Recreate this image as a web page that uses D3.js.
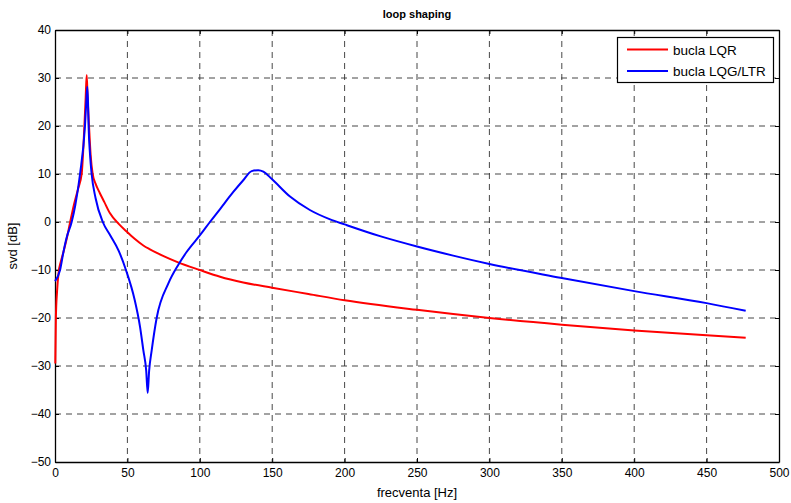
<!DOCTYPE html>
<html>
<head>
<meta charset="utf-8">
<script src="https://cdn.jsdelivr.net/npm/d3@7"></script>
<style>
  html, body { margin: 0; padding: 0; background: #fff; }
  svg { display: block; font-family: "Liberation Sans", Arial, sans-serif; }
</style>
</head>
<body>
<svg id="chart" width="791" height="503"></svg>
<script>
// Frequency response samples: [frequency Hz, singular value dB]
const lqrFreq = [0.2, 0.6, 1.4, 2.5, 4, 5.8, 8, 10.5, 13, 16, 18.4, 20.3, 21.2, 21.9, 22.5, 23.5, 24.6, 26, 28, 31, 34, 38, 44, 49.5, 55, 61, 65.6, 75, 85, 100, 114, 130, 150, 175, 200, 250, 300, 350, 400, 450, 477];
const lqrDb   = [-29.5, -20, -14.5, -10.5, -8.3, -6.3, -3.6, 0, 3.5, 7, 10, 20, 26, 30.6, 26, 20, 14, 10, 8, 6, 4.2, 1.8, -0.4, -2.0, -3.5, -4.9, -5.7, -7.1, -8.4, -10, -11.4, -12.6, -13.7, -15, -16.3, -18.3, -20, -21.4, -22.6, -23.6, -24.1];

const ltrFreq = [0, 3.5, 5.8, 8, 11.5, 14, 17.3, 20.7, 21.6, 22.3, 22.8, 23.2, 24.2, 25.3, 28, 33, 38, 44, 49, 55, 58.7, 61, 63, 64, 65, 66.8, 70.2, 78.3, 85.2, 91, 100, 107, 114, 123, 130, 135.8, 140.4, 143.9, 149.6, 162.3, 176, 190, 200, 225, 250, 275, 300, 349, 400, 450, 477];
const ltrDb   = [-12.3, -10, -6.3, -3.3, 0, 3.5, 10, 20, 25, 28.2, 25, 20, 14, 10, 5, 0, -2.7, -6, -10, -16.2, -21.8, -26.7, -31, -35.6, -31, -26.7, -20, -12.8, -8.9, -6.2, -2.8, 0, 2.7, 6.2, 8.7, 10.6, 10.8, 10.5, 9, 5.3, 2.5, 0.55, -0.5, -3, -5.1, -7, -8.75, -11.6, -14.4, -16.9, -18.5];

const xTicks = [0, 50, 100, 150, 200, 250, 300, 350, 400, 450, 500];
const yTicks = [-50, -40, -30, -20, -10, 0, 10, 20, 30, 40];

const seriesNames = ["bucla LQR", "bucla LQG/LTR"];
const seriesColors = ["#ff0000", "#0000ff"];

const chartTitle = "loop shaping";
const xLabel = "frecventa [Hz]";
const yLabel = "svd [dB]";

const margin = { left: 55, right: 12, top: 30, bottom: 41 };
const W = 791, H = 503;
const svg = d3.select("#chart");

const x = d3.scaleLinear().domain([0, 500]).range([margin.left, W - margin.right]);
const y = d3.scaleLinear().domain([-50, 40]).range([H - margin.bottom, margin.top]);

// dashed grid
const grid = svg.append("g").attr("stroke", "#000").attr("stroke-width", 0.9)
  .attr("stroke-dasharray", "6,5").attr("opacity", 0.8);
grid.selectAll("line.vx").data(xTicks.slice(1, -1)).join("line")
  .attr("x1", d => x(d)).attr("x2", d => x(d))
  .attr("y1", y(40)).attr("y2", y(-50));
grid.selectAll("line.hy").data(yTicks.slice(1, -1)).join("line")
  .attr("x1", x(0)).attr("x2", x(500))
  .attr("y1", d => y(d)).attr("y2", d => y(d));

// axes with ticks pointing inward
const xAxis = svg.append("g").attr("transform", `translate(0,${y(-50)})`)
  .call(d3.axisBottom(x).tickValues(xTicks).tickSize(-4).tickPadding(6).tickSizeOuter(0));
const xAxisTop = svg.append("g").attr("transform", `translate(0,${y(40)})`)
  .call(d3.axisTop(x).tickValues(xTicks).tickSize(-4).tickFormat("").tickSizeOuter(0));
const yAxis = svg.append("g").attr("transform", `translate(${x(0)},0)`)
  .call(d3.axisLeft(y).tickValues(yTicks).tickSize(-4).tickPadding(4).tickSizeOuter(0));
const yAxisRight = svg.append("g").attr("transform", `translate(${x(500)},0)`)
  .call(d3.axisRight(y).tickValues(yTicks).tickSize(-4).tickFormat("").tickSizeOuter(0));

[xAxis, xAxisTop, yAxis, yAxisRight].forEach(g => {
  g.selectAll("path.domain").attr("stroke", "#000").attr("stroke-width", 1.3);
  g.selectAll(".tick line").attr("stroke", "#000");
  g.selectAll("text").attr("font-size", 12).attr("fill", "#000")
    .attr("font-family", "Liberation Sans, Arial, sans-serif");
});

// curves
const line = d3.line().x(d => x(d[0])).y(d => y(d[1])).curve(d3.curveMonotoneX);
const lqr = d3.zip(lqrFreq, lqrDb);
const ltr = d3.zip(ltrFreq, ltrDb);
svg.append("path").datum(lqr).attr("d", line)
  .attr("fill", "none").attr("stroke", seriesColors[0]).attr("stroke-width", 2).attr("stroke-linejoin", "round");
svg.append("path").datum(ltr).attr("d", line)
  .attr("fill", "none").attr("stroke", seriesColors[1]).attr("stroke-width", 2).attr("stroke-linejoin", "round");

// title and labels
svg.append("text").attr("x", (x(0) + x(500)) / 2).attr("y", 18)
  .attr("text-anchor", "middle").attr("font-size", 11).attr("font-weight", "bold").text(chartTitle);
svg.append("text").attr("x", (x(0) + x(500)) / 2).attr("y", 497)
  .attr("text-anchor", "middle").attr("font-size", 13).text(xLabel);
svg.append("text").attr("transform", `translate(17,${(y(40) + y(-50)) / 2}) rotate(-90)`)
  .attr("text-anchor", "middle").attr("font-size", 13).text(yLabel);

// legend
const lg = svg.append("g");
lg.append("rect").attr("x", 617.5).attr("y", 37.5).attr("width", 156).attr("height", 45)
  .attr("fill", "#fff").attr("stroke", "#000").attr("stroke-width", 1.2);
seriesNames.forEach((name, i) => {
  const ly = 49.5 + i * 21.5;
  lg.append("line").attr("x1", 627).attr("x2", 668).attr("y1", ly).attr("y2", ly)
    .attr("stroke", seriesColors[i]).attr("stroke-width", 2);
  lg.append("text").attr("x", 673).attr("y", ly + 5).attr("font-size", 13.5).text(name);
});
</script>
</body>
</html>
